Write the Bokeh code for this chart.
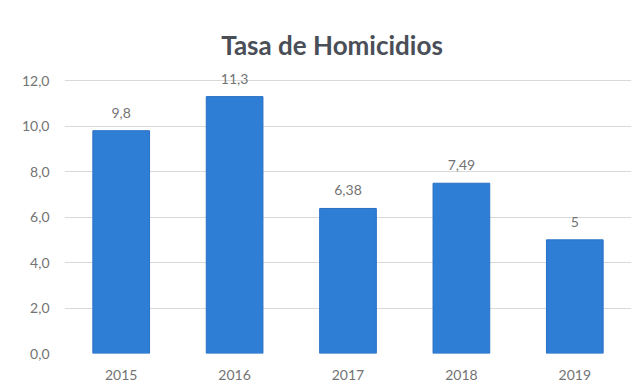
from bokeh.plotting import figure
from bokeh.models import ColumnDataSource, FactorRange, Range1d, FixedTicker, LabelSet, Label
from bokeh.core.properties import value
from bokeh.embed import file_html
from bokeh.resources import INLINE

years = ["2015", "2016", "2017", "2018", "2019"]
rates = [9.8, 11.3, 6.38, 7.49, 5]
rate_labels = ["9,8", "11,3", "6,38", "7,49", "5"]
y_ticks = [0, 2, 4, 6, 8, 10, 12]
y_tick_labels = ["0,0", "2,0", "4,0", "6,0", "8,0", "10,0", "12,0"]
title_text = "Tasa de Homicidios"

FONT = "Lato"
GRAY = "#737373"

src = ColumnDataSource(data=dict(year=years, rate=rates, label=rate_labels))

p = figure(
    x_range=FactorRange(*years, range_padding=0),
    y_range=Range1d(0, 14.56),
    width=635, height=385,
    output_backend="svg", toolbar_location=None,
    min_border_left=64, min_border_right=4, min_border_top=22, min_border_bottom=32,
)
p.outline_line_color = None
p.background_fill_color = "white"
p.border_fill_color = "white"

p.vbar(x="year", top="rate", width=0.5, source=src,
       fill_color="#2f7ed6", line_color="#2a70c4", line_width=1)

p.xgrid.grid_line_color = None
p.ygrid.grid_line_color = "#d9d9d9"
p.ygrid.ticker = FixedTicker(ticks=y_ticks)

p.yaxis.ticker = FixedTicker(ticks=y_ticks)
p.yaxis.major_label_overrides = {t: l for t, l in zip(y_ticks, y_tick_labels)}
for ax in (p.xaxis[0], p.yaxis[0]):
    ax.axis_line_color = None
    ax.major_tick_line_color = None
    ax.minor_tick_line_color = None
    ax.major_label_text_font = FONT
    ax.major_label_text_font_size = "14px"
    ax.major_label_text_color = GRAY
p.yaxis.major_label_standoff = 9
p.xaxis.major_label_standoff = 10

labels = LabelSet(x="year", y="rate", text="label", source=src,
                  text_align="center", text_baseline="bottom", y_offset=13,
                  text_font=value(FONT), text_font_size=value("14px"),
                  text_color=GRAY)
p.add_layout(labels)

title = Label(x=2.5, y=13.56, text=title_text, x_offset=-16,
              text_align="center", text_baseline="middle",
              text_font=FONT, text_font_size="26px", text_font_style="bold",
              text_color="#4a4e57")
p.add_layout(title)

open("out.html", "w").write(file_html(p, INLINE))
